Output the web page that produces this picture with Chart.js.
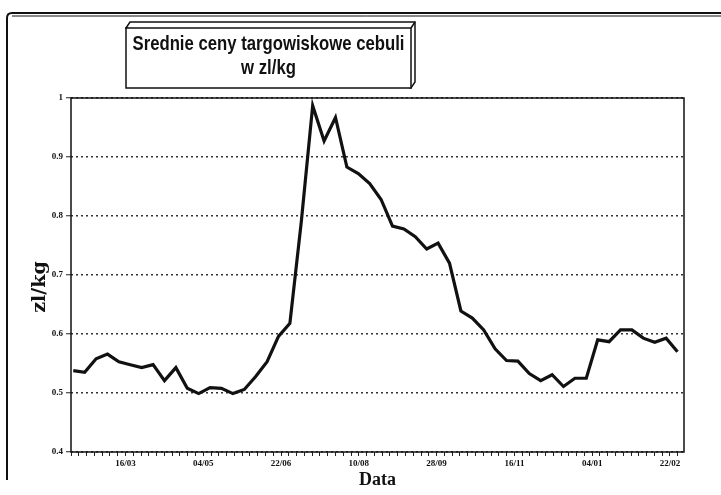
<!DOCTYPE html>
<html>
<head>
<meta charset="utf-8">
<script src="https://cdn.jsdelivr.net/npm/chart.js@4.4.0/dist/chart.umd.min.js"></script>
<style>
  html, body { margin: 0; padding: 0; background: #fff; }
  #wrap { width: 721px; height: 495px; position: relative; }
</style>
</head>
<body>
<div id="wrap"><canvas id="chart"></canvas></div>
<script>
// Tytuł i opisy osi
const titleLines = ['Srednie ceny targowiskowe cebuli', 'w zl/kg'];
const yAxisTitle = 'zl/kg';
const xAxisTitle = 'Data';

// Etykiety osi X (co 10 działek)
const tickLabels = ['16/03', '04/05', '22/06', '10/08', '28/09', '16/11', '04/01', '22/02'];

// Średnie ceny tygodniowe (zl/kg)
const prices = [
  0.538, 0.535, 0.558, 0.566, 0.553, 0.548, 0.543, 0.548, 0.521, 0.543,
  0.508, 0.499, 0.509, 0.508, 0.499, 0.506, 0.528, 0.553, 0.596, 0.618,
  0.790, 0.987, 0.927, 0.967, 0.883, 0.872, 0.855, 0.828, 0.783, 0.778,
  0.765, 0.744, 0.754, 0.720, 0.639, 0.627, 0.607, 0.575, 0.555, 0.554,
  0.533, 0.521, 0.531, 0.511, 0.525, 0.525, 0.590, 0.587, 0.607, 0.607,
  0.593, 0.586, 0.593, 0.570
];

const points = prices.map((v, i) => ({ x: i, y: v }));

// Ramka strony, ramka obszaru wykresu, pudełko tytułu i opis osi Y
const framePlugin = {
  id: 'frame',
  afterDraw(chart) {
    const { ctx, chartArea: a } = chart;
    ctx.save();
    ctx.strokeStyle = '#111';
    // ramka strony
    ctx.lineWidth = 2;
    ctx.beginPath();
    ctx.moveTo(7, 480);
    ctx.lineTo(7, 18);
    ctx.quadraticCurveTo(7, 13, 12, 13);
    ctx.lineTo(721, 13);
    ctx.stroke();
    ctx.lineWidth = 1;
    ctx.beginPath();
    ctx.moveTo(12, 16);
    ctx.lineTo(721, 16);
    ctx.stroke();

    // ramka obszaru danych
    ctx.lineWidth = 1.5;
    ctx.strokeRect(a.left, a.top, a.right - a.left, a.bottom - a.top);

    // pudełko tytułu (3D)
    const bx = 126, by = 28, bw = 285, bh = 60, dx = 4, dy = 6;
    ctx.fillStyle = '#fff';
    ctx.lineWidth = 1.5;
    ctx.beginPath();
    ctx.moveTo(bx, by);
    ctx.lineTo(bx + dx, by - dy);
    ctx.lineTo(bx + bw + dx, by - dy);
    ctx.lineTo(bx + bw + dx, by + bh - dy);
    ctx.lineTo(bx + bw, by + bh);
    ctx.closePath();
    ctx.fill();
    ctx.stroke();
    ctx.fillRect(bx, by, bw, bh);
    ctx.strokeRect(bx, by, bw, bh);
    ctx.beginPath();
    ctx.moveTo(bx + bw, by);
    ctx.lineTo(bx + bw + dx, by - dy);
    ctx.stroke();

    // tekst tytułu (zwężona czcionka)
    ctx.fillStyle = '#111';
    ctx.font = 'bold 21px "Liberation Sans", Arial, sans-serif';
    ctx.textAlign = 'center';
    ctx.textBaseline = 'alphabetic';
    const sx = 272 / ctx.measureText(titleLines[0]).width;
    const cx = bx + bw / 2;
    ctx.save();
    ctx.translate(cx, 0);
    ctx.scale(sx, 1);
    ctx.fillText(titleLines[0], 0, 50);
    ctx.fillText(titleLines[1], 0, 74);
    ctx.restore();

    // opis osi Y
    ctx.save();
    ctx.translate(40, 287);
    ctx.rotate(-Math.PI / 2);
    ctx.font = 'bold 19px "DejaVu Serif", serif';
    ctx.textAlign = 'center';
    ctx.textBaseline = 'middle';
    ctx.fillText(yAxisTitle, 0, 0);
    ctx.restore();
    ctx.restore();
  }
};

const ctx = document.getElementById('chart').getContext('2d');
new Chart(ctx, {
  type: 'line',
  data: {
    datasets: [{
      label: 'cebula',
      data: points,
      xAxisID: 'x',
      yAxisID: 'y',
      borderColor: '#111',
      borderWidth: 3.2,
      pointRadius: 0,
      tension: 0,
      fill: false,
    }],
  },
  options: {
    animation: false,
    responsive: true,
    maintainAspectRatio: false,
    layout: { padding: { left: 0, right: 37, top: 98, bottom: 0 } },
    plugins: {
      legend: { display: false },
      tooltip: { enabled: false },
      title: { display: false },
    },
    scales: {
      x: {
        type: 'linear',
        display: false,
        min: -0.2,
        max: 53.57,
      },
      xt: {
        type: 'linear',
        position: 'bottom',
        min: 0,
        max: 78.8,
        afterFit: (scale) => { scale.height = 43; },
        grid: {
          drawOnChartArea: false,
          drawTicks: true,
          tickLength: 4,
          tickColor: '#222',
          tickWidth: 1,
        },
        border: { display: false },
        ticks: {
          stepSize: 1,
          autoSkip: false,
          includeBounds: false,
          maxRotation: 0,
          minRotation: 0,
          padding: 2,
          color: '#111',
          font: { family: '"Liberation Serif", serif', size: 9, weight: 'bold' },
          callback: (v) => ((v - 7) % 10 === 0 && v >= 7) ? tickLabels[(v - 7) / 10] : '',
        },
        title: {
          display: true,
          text: xAxisTitle,
          color: '#111',
          font: { family: '"Liberation Serif", serif', size: 18, weight: 'bold' },
          padding: { top: 0, bottom: 4 },
        },
      },
      y: {
        type: 'linear',
        min: 0.4,
        max: 1,
        afterFit: (scale) => { scale.width = 71; },
        grid: {
          color: '#333',
          lineWidth: 1.5,
          drawTicks: true,
          tickLength: 5,
          tickColor: '#222',
          tickWidth: 1,
          tickBorderDash: [],
        },
        border: { display: false, dash: [2, 3] },
        ticks: {
          stepSize: 0.1,
          padding: 3,
          color: '#111',
          font: { family: '"Liberation Serif", serif', size: 9, weight: 'bold' },
          callback: (v) => (Math.abs(v - 1) < 1e-6 ? '1' : v.toFixed(1)),
        },
      },
    },
  },
  plugins: [framePlugin],
});
</script>
</body>
</html>
